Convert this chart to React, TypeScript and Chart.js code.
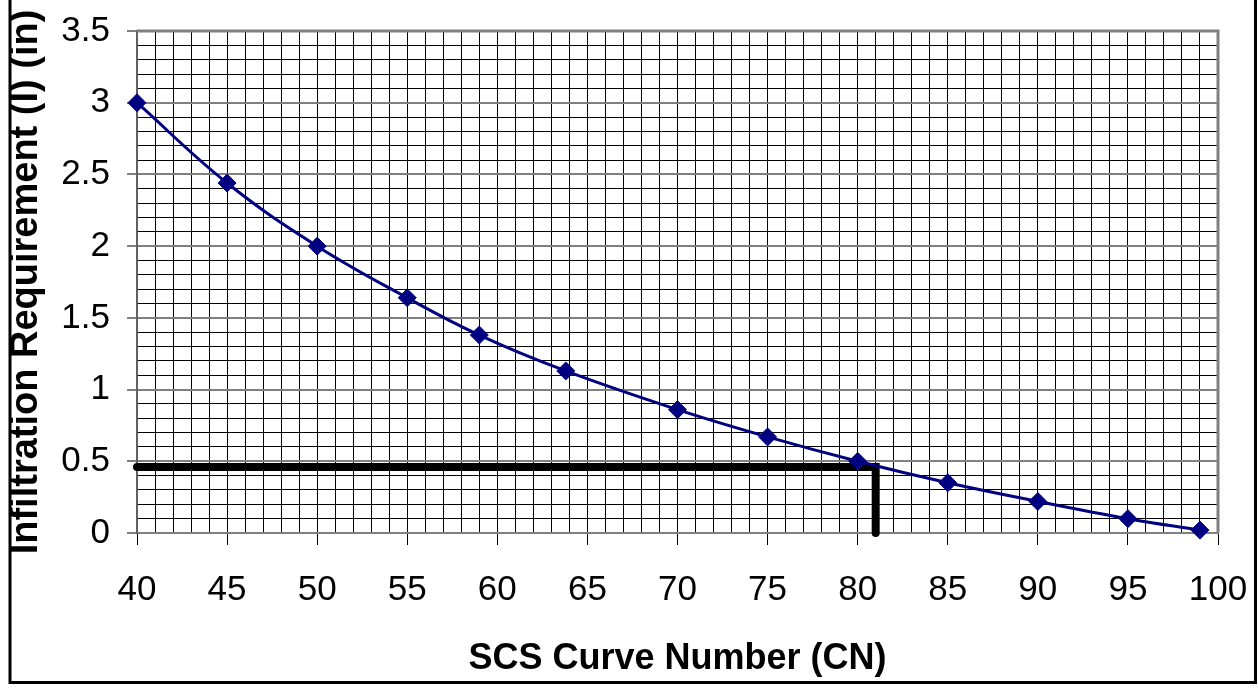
import React, { useEffect, useRef } from 'react';
import { Chart, registerables } from 'chart.js';

Chart.register(...registerables);

// Curve data
const CN = [40, 45, 50, 55, 59, 63.8, 70, 75, 80, 85, 90, 95, 99];
const INFIL = [3.0, 2.44, 2.0, 1.64, 1.38, 1.13, 0.86, 0.67, 0.5, 0.35, 0.22, 0.1, 0.02];

// Thick black reading guide
const GUIDE_X = [40, 81, 81];
const GUIDE_Y = [0.46, 0.46, 0];

const X_MIN = 40;
const X_MAX = 100;
const X_STEP = 1;
const X_LABEL_EVERY = 5;
const Y_MIN = 0;
const Y_MAX = 3.5;
const Y_STEP = 0.1;
const Y_LABEL_EVERY = 0.5;

const X_TITLE = 'SCS Curve Number (CN)';
const Y_TITLE = 'Infiltration Requirement (I) (in)';

const NAVY = '#000080';
const FONT = "'Liberation Sans', Arial, sans-serif";

const isXMajor = (v: number) => Math.round(v) % X_LABEL_EVERY === 0;
const isYMajor = (v: number) => Math.round(v * 10) % Math.round(Y_LABEL_EVERY * 10) === 0;

const framePlugin = {
  id: 'frame',
  beforeDatasetsDraw(chart: any) {
    const { ctx, chartArea: a } = chart;
    ctx.save();
    ctx.strokeStyle = '#808080';
    ctx.lineWidth = 3;
    ctx.beginPath();
    ctx.moveTo(a.left, a.top);
    ctx.lineTo(a.right, a.top);
    ctx.lineTo(a.right, a.bottom);
    ctx.stroke();
    ctx.restore();
  },
  afterDraw(chart: any) {
    const { ctx } = chart;
    const w = chart.width;
    const h = chart.height;
    ctx.save();
    ctx.strokeStyle = '#000';
    ctx.lineWidth = 3;
    ctx.beginPath();
    ctx.moveTo(10, 0);
    ctx.lineTo(10, h - 5.5);
    ctx.lineTo(w - 2.5, h - 5.5);
    ctx.lineTo(w - 2.5, 0);
    ctx.stroke();
    ctx.restore();
  },
};

export default function App() {
  const ref = useRef<HTMLCanvasElement | null>(null);

  useEffect(() => {
    if (!ref.current) return;
    const curve = CN.map((x, i) => ({ x, y: INFIL[i] }));
    const guide = GUIDE_X.map((x, i) => ({ x, y: GUIDE_Y[i] }));

    const chart = new Chart(ref.current, {
      type: 'line',
      data: {
        datasets: [
          {
            data: guide,
            borderColor: '#000',
            borderWidth: 8,
            borderCapStyle: 'round',
            borderJoinStyle: 'miter',
            pointRadius: 0,
            tension: 0,
            clip: false,
            order: 3,
          } as any,
          {
            data: curve,
            borderColor: NAVY,
            borderWidth: 3,
            pointRadius: 0,
            tension: 0.4,
            clip: false,
            order: 2,
          } as any,
          {
            data: curve,
            showLine: false,
            pointStyle: 'rectRot',
            pointRadius: 9,
            pointBorderWidth: 1,
            pointBackgroundColor: NAVY,
            pointBorderColor: NAVY,
            clip: false,
            order: 1,
          } as any,
        ],
      },
      options: {
        responsive: false,
        animation: false,
        events: [],
        layout: { padding: { left: 0, top: 31, right: 40, bottom: 0 } },
        plugins: {
          legend: { display: false },
          tooltip: { enabled: false },
        },
        scales: {
          x: {
            type: 'linear',
            min: X_MIN,
            max: X_MAX,
            afterFit: (s: any) => {
              s.height = 155;
              s.paddingLeft = 0;
              s.paddingRight = 0;
            },
            ticks: {
              stepSize: X_STEP,
              autoSkip: false,
              maxRotation: 0,
              minRotation: 0,
              padding: 24,
              color: '#000',
              font: { family: FONT, size: 35 },
              callback: (v: any) => (isXMajor(Number(v)) ? String(Math.round(Number(v))) : ''),
            },
            grid: {
              color: '#000',
              lineWidth: 1,
              tickLength: 12,
              tickColor: (ctx: any) => (ctx.tick && isXMajor(ctx.tick.value) ? '#000' : 'rgba(0,0,0,0)'),
            },
            border: { display: true, color: '#808080', width: 2 },
            title: {
              display: true,
              text: X_TITLE,
              color: '#000',
              font: { family: FONT, size: 36, weight: 'bold' },
              padding: { top: 0, bottom: 7 },
            },
          },
          y: {
            type: 'linear',
            min: Y_MIN,
            max: Y_MAX,
            afterFit: (s: any) => {
              s.width = 137;
              s.paddingTop = 0;
              s.paddingBottom = 0;
            },
            ticks: {
              stepSize: Y_STEP,
              autoSkip: false,
              padding: 17,
              color: '#000',
              font: { family: FONT, size: 35 },
              callback: (v: any) => (isYMajor(Number(v)) ? String(Math.round(Number(v) * 10) / 10) : ''),
            },
            grid: {
              color: (ctx: any) => (ctx.tick && isYMajor(ctx.tick.value) ? '#808080' : '#000'),
              lineWidth: (ctx: any) => (ctx.tick && isYMajor(ctx.tick.value) ? 2 : 1),
              tickLength: 10,
              tickColor: (ctx: any) => (ctx.tick && isYMajor(ctx.tick.value) ? '#808080' : 'rgba(0,0,0,0)'),
              tickWidth: 2,
            },
            border: { display: true, color: '#606060', width: 2 },
            title: {
              display: true,
              text: Y_TITLE,
              color: '#000',
              font: { family: FONT, size: 38, weight: 'bold' },
              padding: { top: 4, bottom: 0 },
            },
          },
        },
      },
      plugins: [framePlugin],
    } as any);

    return () => chart.destroy();
  }, []);

  return (
    <div style={{ position: 'absolute', left: 0, top: 0, width: 1258, height: 688, background: '#fff' }}>
      <canvas ref={ref} width={1258} height={688} style={{ display: 'block' }} />
    </div>
  );
}
